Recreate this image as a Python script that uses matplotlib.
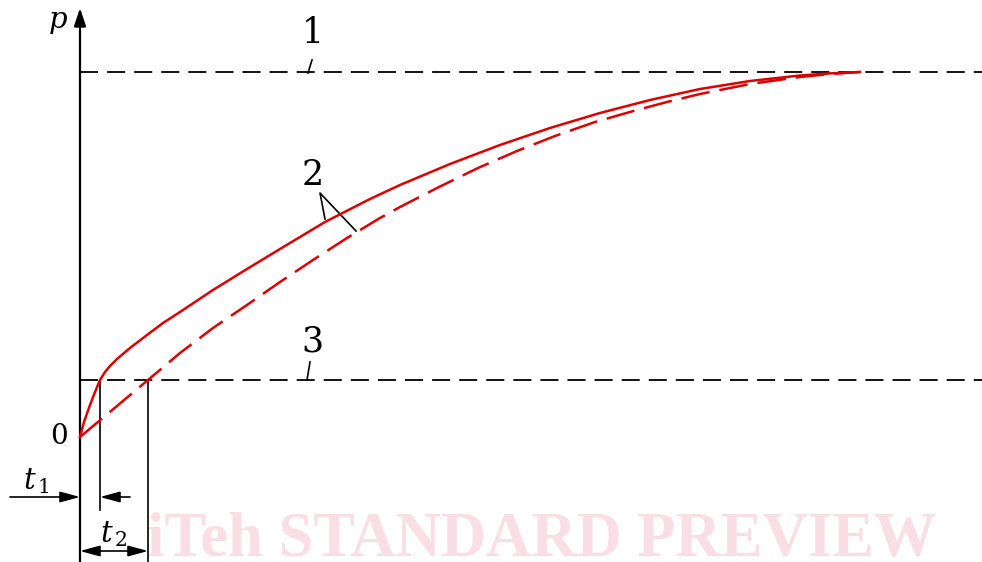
import numpy as np
import matplotlib
matplotlib.use("Agg")
from matplotlib import pyplot as plt

plt.rcParams['mathtext.fontset'] = 'dejavuserif'

# pressure build-up curves, t and p in drawing units (origin at 0, 0)
t_solid = [0, 4, 10, 15, 20, 25, 30, 37, 50, 67, 83, 100, 133, 167, 200, 245,
           290, 320, 370, 420, 470, 520, 570, 620, 670, 720, 750, 780]
p_solid = [0, 15, 32, 45, 57, 65, 71, 78, 89, 102, 114, 125, 147, 168, 188,
           215, 238, 252, 273, 292, 309, 324, 337, 348, 356, 361.5, 363.6, 365]

t_dashed = [0, 68, 100, 133, 167, 200, 233, 267, 300, 320, 359, 398, 437,
            475, 515, 557, 587, 620, 670, 720, 750, 780]
p_dashed = [0, 57, 84, 109, 132, 155, 177, 199, 219, 230, 250, 269, 286,
            301, 315, 327, 335, 343, 353, 360, 363, 365]

p_level1 = 365   # line 1
p_level3 = 57    # line 3
t1 = 20
t2 = 68

red = '#dd0000'

fig = plt.figure(figsize=(9.82, 5.62), dpi=100)
ax = fig.add_axes([0, 0, 1, 1])
ax.set_xlim(-80, 902)
ax.set_ylim(-125, 437)
ax.axis('off')

# watermark
ax.text(462, -118, 'iTeh STANDARD PREVIEW', color='#f9dfe5', fontsize=45,
        family='Liberation Serif', weight='bold', ha='center', va='baseline',
        zorder=0)

# axes with arrows
axis_arrow = dict(arrowstyle='-|>,head_length=0.9,head_width=0.3',
                  mutation_scale=12, color='black', lw=1.6,
                  shrinkA=0, shrinkB=0)
ax.annotate('', xy=(0, 429), xytext=(0, -125), arrowprops=axis_arrow)
ax.annotate('', xy=(903, 0), xytext=(0, 0), arrowprops=axis_arrow)

# horizontal levels 1 and 3
for lvl in (p_level1, p_level3):
    ax.plot([0, 902], [lvl, lvl], color='black', lw=1.3,
            dashes=(10, 5), solid_capstyle='butt')

# curves 2
ax.plot(t_solid, p_solid, color=red, lw=1.8, zorder=5)
ax.plot(t_dashed, p_dashed, color=red, lw=1.8, dashes=(11.5, 4), zorder=5)

# vertical markers for t1 and t2
ax.plot([t1, t1], [p_level3, -73], color='black', lw=1.2)
ax.plot([t2, t2], [p_level3, -125], color='black', lw=1.2)

# dimension arrows
dim_arrow = dict(arrowstyle='-|>,head_length=1.1,head_width=0.3',
                 mutation_scale=11, color='black', lw=1.2,
                 shrinkA=0, shrinkB=0)
ax.annotate('', xy=(0, -60), xytext=(-70, -60), arrowprops=dim_arrow)
ax.annotate('', xy=(t1, -60), xytext=(50, -60), arrowprops=dim_arrow)
ax.annotate('', xy=(0, -114), xytext=(t2, -114),
            arrowprops=dict(arrowstyle='<|-|>,head_length=1.1,head_width=0.3',
                            mutation_scale=11, color='black', lw=1.2,
                            shrinkA=0, shrinkB=0))

# leaders and labels
ax.plot([232, 228], [377, 364], color='black', lw=1.2)
ax.plot([230, 227], [75, 57], color='black', lw=1.2)
ax.plot([245, 240, 276], [218, 244, 206], color='black', lw=1.2)

lbl = dict(fontsize=25, family='DejaVu Serif', ha='center', va='center')
ax.text(233, 404, '1', **lbl)
ax.text(233, 262, '2', **lbl)
ax.text(232, 96, '3', **lbl)
ax.text(-21, 0, '0', fontsize=20, family='DejaVu Serif', ha='center',
        va='center')
ax.text(-22, 415, r'$p$', fontsize=21, ha='center', va='center')
ax.text(-44, -44, r'$t_{\,1}$', fontsize=21, ha='center', va='center')
ax.text(34, -97, r'$t_{\,2}$', fontsize=21, ha='center', va='center')

fig.savefig('out.png', dpi=100)
